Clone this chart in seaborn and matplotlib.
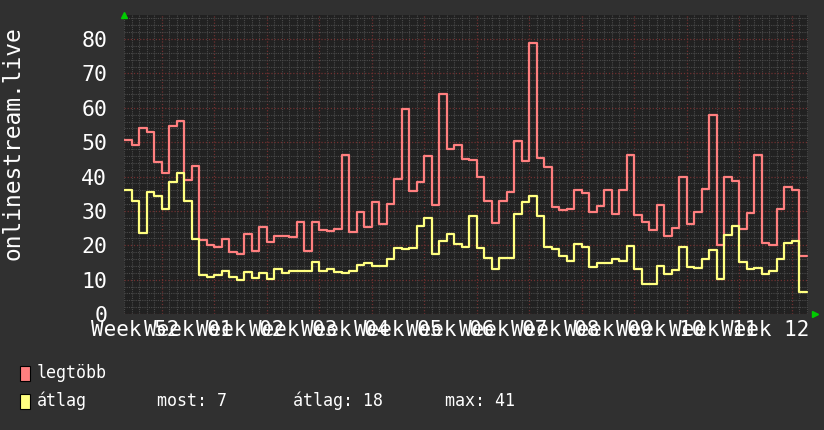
import numpy as np
import pandas as pd
import seaborn as sns
import matplotlib.pyplot as plt
from matplotlib.ticker import MultipleLocator
import matplotlib.transforms as mtransforms

# daily values (91 days)
legtobb = [50.7, 49.3, 54.2, 53.0, 44.2, 41.0, 54.7, 56.3, 39.1, 43.1,
           21.4, 20.2, 19.6, 21.7, 18.0, 17.4, 23.4, 18.2,
           25.3, 20.9, 22.8, 22.8, 22.5, 26.9, 18.2, 26.7, 24.4, 24.1,
           24.8, 46.4, 24.0, 29.6, 25.3, 32.7, 26.1, 32.1,
           39.2, 59.7, 35.9, 38.5, 46.0, 31.6, 64.0, 47.9, 49.3, 45.2,
           44.8, 39.8, 33.0, 26.5, 32.9, 35.4, 50.4, 44.4, 78.8,
           45.3, 42.9, 31.0, 30.2, 30.6, 36.2, 35.2, 29.8, 31.5, 36.2,
           29.2, 36.0, 46.4, 28.8, 26.9, 24.4, 31.7, 22.7,
           25.1, 39.8, 26.2, 29.8, 36.5, 57.9, 20.2, 39.8, 38.8, 24.6,
           29.4, 46.3, 20.8, 20.2, 30.6, 36.9, 36.2, 16.9]
atlag = [36.2, 32.9, 23.6, 35.6, 34.3, 30.6, 38.3, 41.0, 32.9, 21.9,
         11.4, 10.9, 11.4, 12.4, 10.9, 9.9, 12.2, 10.5,
         11.8, 10.1, 13.0, 11.8, 12.4, 12.6, 12.4, 15.1, 12.4, 13.0,
         12.2, 11.8, 12.6, 14.2, 14.7, 14.0, 14.0, 16.1,
         19.3, 18.9, 19.3, 25.5, 27.8, 17.4, 21.3, 23.2, 20.3, 19.5,
         28.6, 19.1, 16.2, 13.1, 16.4, 16.4, 29.2, 32.7, 34.4,
         28.6, 19.4, 19.0, 16.9, 15.3, 20.3, 19.4, 13.8, 14.7, 14.7,
         15.9, 15.3, 19.8, 13.0, 8.7, 8.7, 14.1, 11.6,
         12.7, 19.6, 13.7, 13.3, 16.0, 18.7, 10.2, 23.1, 25.6, 15.0,
         13.1, 13.3, 11.7, 12.5, 16.0, 20.8, 21.3, 6.3]
week_labels = ["Week 52", "Week 01", "Week 02", "Week 03", "Week 04", "Week 05",
               "Week 06", "Week 07", "Week 08", "Week 09", "Week 10", "Week 11",
               "Week 12"]
legend_stats = {"most": 7, "átlag": 18, "max": 41}

BG = "#303030"
PLOT_BG = "#212121"
RED = "#ff7f7f"
YELLOW = "#ffff80"
MONO = "DejaVu Sans Mono"

n = len(legtobb)
df = pd.DataFrame({
    "day": np.arange(n + 1),
    "legtöbb": legtobb + [legtobb[-1]],
    "átlag": atlag + [atlag[-1]],
})

sns.set_style("dark")
plt.rcParams["font.family"] = [MONO]

fig = plt.figure(figsize=(8.24, 4.30), dpi=100, facecolor=BG)
ax = fig.add_axes([124 / 824, 116 / 430, 684 / 824, 299 / 430])
ax.set_facecolor(PLOT_BG)

sns.lineplot(data=df, x="day", y="legtöbb", ax=ax, color=RED, lw=1.6,
             drawstyle="steps-post", zorder=3)
sns.lineplot(data=df, x="day", y="átlag", ax=ax, color=YELLOW, lw=1.6,
             drawstyle="steps-post", zorder=4)

ax.set_xlim(0, n + 0.2)
ax.set_ylim(0, 87)

# grid like rrdtool: minor dotted gray, major dashed dark red
ax.xaxis.set_minor_locator(MultipleLocator(1))
ax.set_xticks(np.arange(5, n, 7))
ax.yaxis.set_major_locator(MultipleLocator(10))
ax.yaxis.set_minor_locator(MultipleLocator(2))
ax.grid(which="minor", color="#4a4a4a", ls=(0, (1, 1)), lw=0.8)
ax.grid(which="major", color="#703030", ls=(0, (1, 1.5)), lw=0.9)
ax.set_axisbelow(True)

ax.set_xticklabels([])
ax.tick_params(axis="x", which="major", length=4, color="#a04040", direction="out")
ax.tick_params(axis="x", which="minor", length=0)
ax.tick_params(axis="y", which="both", length=0, labelcolor="white",
               labelsize=15.5, pad=12)
for lbl in ax.get_yticklabels():
    lbl.set_family(MONO)
for s in ax.spines.values():
    s.set_visible(False)
ax.set_xlabel("")
ax.set_ylabel("")

# week labels centered in each week (they overlap, as in the original)
trans = mtransforms.blended_transform_factory(ax.transData, ax.transAxes)
for i, lab in enumerate(week_labels):
    ax.text(1.5 + 7 * i, -0.02, lab, transform=trans, ha="center", va="top",
            color="white", fontsize=15, family=MONO)

# green arrows at axis ends
ax.plot([0.0], [1.0], marker="^", color="#00cc00", ms=4, transform=ax.transAxes,
        clip_on=False)
ax.plot([1.01], [0.0], marker=">", color="#00cc00", ms=4, transform=ax.transAxes,
        clip_on=False)

fig.text(13 / 824, 1 - 143 / 430, "onlinestream.live", rotation=90, ha="center",
         va="center", color="white", fontsize=16.5, family=MONO)

# legend
for row, (name, col) in enumerate([("legtöbb", RED), ("átlag", YELLOW)]):
    yc = 1 - (373 + 28 * row) / 430
    fig.patches.append(plt.Rectangle((20 / 824, yc - 7.5 / 430), 10 / 824, 15 / 430,
                                     transform=fig.transFigure, facecolor=col,
                                     edgecolor="black", lw=0.8))
    fig.text(37 / 824, yc, name, ha="left", va="center", color="white",
             fontsize=12, family=MONO)
yc = 1 - 401 / 430
fig.text(157 / 824, yc, f"most: {legend_stats['most']}", ha="left", va="center",
         color="white", fontsize=12, family=MONO)
fig.text(293 / 824, yc, f"átlag: {legend_stats['átlag']}", ha="left", va="center",
         color="white", fontsize=12, family=MONO)
fig.text(445 / 824, yc, f"max: {legend_stats['max']}", ha="left", va="center",
         color="white", fontsize=12, family=MONO)

plt.savefig("out.png", dpi=100, facecolor=BG)
